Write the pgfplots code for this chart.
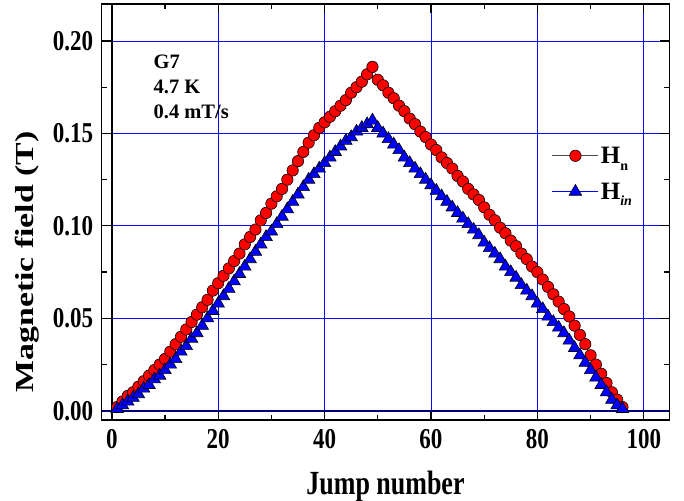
\documentclass[border=0pt]{standalone}
\usepackage{fontspec}
\setmainfont{Liberation Serif}
\usepackage{pgfplots}
\pgfplotsset{compat=1.18}
\usepackage{pgfplotstable}

\definecolor{hnred}{RGB}{255,0,0}
\definecolor{hinblue}{RGB}{0,0,255}
\definecolor{gridblue}{RGB}{10,10,255}
\definecolor{zeronavy}{RGB}{0,0,120}

% Field of the jump onset: H_n (normal) and H_in, versus jump number
\pgfplotstableread{
x y
1 0.002
2 0.005
3 0.008
4 0.010
5 0.013
6 0.016
7 0.019
8 0.022
9 0.025
10 0.028
11 0.032
12 0.036
13 0.040
14 0.044
15 0.048
16 0.052
17 0.056
18 0.060
19 0.065
20 0.069
21 0.073
22 0.077
23 0.081
24 0.085
25 0.090
26 0.094
27 0.098
28 0.103
29 0.107
30 0.112
31 0.116
32 0.120
33 0.125
34 0.130
35 0.135
36 0.140
37 0.145
38 0.149
39 0.153
40 0.156
41 0.159
42 0.162
43 0.165
44 0.168
45 0.172
46 0.175
47 0.178
48 0.182
49 0.186
50 0.179
51 0.176
52 0.172
53 0.169
54 0.165
55 0.162
56 0.158
57 0.155
58 0.151
59 0.148
60 0.144
61 0.141
62 0.137
63 0.134
64 0.131
65 0.127
66 0.124
67 0.120
68 0.117
69 0.114
70 0.110
71 0.106
72 0.103
73 0.099
74 0.096
75 0.092
76 0.089
77 0.085
78 0.082
79 0.078
80 0.075
81 0.071
82 0.067
83 0.063
84 0.059
85 0.055
86 0.051
87 0.046
88 0.041
89 0.036
90 0.030
91 0.025
92 0.020
93 0.015
94 0.010
95 0.006
96 0.002
}\Hn

\pgfplotstableread{
x y
1 0.001
2 0.003
3 0.005
4 0.007
5 0.009
6 0.012
7 0.014
8 0.017
9 0.019
10 0.022
11 0.025
12 0.028
13 0.032
14 0.035
15 0.039
16 0.042
17 0.046
18 0.050
19 0.054
20 0.058
21 0.062
22 0.066
23 0.070
24 0.074
25 0.078
26 0.082
27 0.086
28 0.090
29 0.094
30 0.097
31 0.101
32 0.105
33 0.109
34 0.113
35 0.117
36 0.121
37 0.125
38 0.128
39 0.131
40 0.134
41 0.137
42 0.140
43 0.143
44 0.146
45 0.148
46 0.151
47 0.153
48 0.155
49 0.157
50 0.153
51 0.150
52 0.147
53 0.144
54 0.141
55 0.137
56 0.134
57 0.131
58 0.128
59 0.125
60 0.122
61 0.119
62 0.116
63 0.113
64 0.110
65 0.107
66 0.104
67 0.101
68 0.098
69 0.095
70 0.091
71 0.088
72 0.085
73 0.082
74 0.078
75 0.075
76 0.072
77 0.068
78 0.065
79 0.062
80 0.058
81 0.055
82 0.051
83 0.048
84 0.045
85 0.042
86 0.038
87 0.034
88 0.030
89 0.026
90 0.022
91 0.018
92 0.014
93 0.010
94 0.006
95 0.003
96 0.001
}\Hin

\begin{document}
\begin{tikzpicture}
\begin{axis}[
  scale only axis,
  width=567.6pt, height=416pt,
  xmin=-1.9, xmax=104.8,
  ymin=-0.005, ymax=0.22,
  xtick={0,20,40,60,80,100},
  ytick={0,0.05,0.10,0.15,0.20},
  minor x tick num=1,
  minor y tick num=1,
  tick align=inside,
  xtick pos=both, ytick pos=both,
  major tick length=9pt,
  minor tick length=5pt,
  every tick/.style={black, line width=1.2pt},
  axis line style={black, line width=1.6pt},
  grid=major,
  major grid style={gridblue, line width=0.9pt},
  scaled y ticks=false,
  xticklabel={\scalebox{1}[1.25]{\pgfmathprintnumber[assume math mode=true]{\tick}}},
  yticklabel={\scalebox{1}[1.25]{\pgfmathprintnumber[assume math mode=true,fixed,fixed zerofill,precision=2]{\tick}}},
  yticklabel style={xshift=-5pt},
  xticklabel style={yshift=-6pt},
  ticklabel style={font=\bfseries\fontsize{23}{25}\selectfont},
  xlabel={\scalebox{1}[1.3]{\textbf{Jump number}}},
  ylabel={\scalebox{1.3}[1]{\textbf{Magnetic field (T)}}},
  label style={font=\bfseries\fontsize{26}{28}\selectfont},
  xlabel style={at={(rel axis cs:0.5,0)}, anchor=center, yshift=-66pt},
  ylabel style={at={(rel axis cs:0,0.38)}, anchor=center, yshift=74pt},
  legend style={draw=none, fill=none, at={(rel axis cs:0.793,0.592)}, anchor=west,
    inner sep=0pt, row sep=14pt, font=\bfseries\fontsize{25}{27}\selectfont,
    nodes={inner sep=2pt}},
  legend cell align=left,
  legend image code/.code={%
    \draw[mark repeat=2,mark phase=2,#1] plot coordinates {(0pt,0pt) (23pt,0pt) (46pt,0pt)};},
  clip=false,
]
% zero lines
\draw[zeronavy, line width=2pt] (axis cs:-1.9,0) -- (axis cs:104.8,0);
\draw[black, line width=1.4pt] (axis cs:0,-0.005) -- (axis cs:0,0.22);

\addplot[black!70, line width=0.6pt, mark=*, mark size=5.7pt,
  mark options={fill=hnred, draw=black, line width=0.6pt, solid}]
  table[x=x, y=y] {\Hn};
\addlegendentry{H\raisebox{-0.6ex}{\fontsize{14}{14}\selectfont n}}

\addplot[color=hinblue, line width=0.8pt, mark=triangle*, mark size=7.2pt,
  mark options={fill=hinblue, draw=black, line width=0.6pt, solid}]
  table[x=x, y=y] {\Hin};
\addlegendentry{H\raisebox{-0.6ex}{\fontsize{14}{14}\selectfont\itshape in}}

% sample and sweep conditions
\node[anchor=base west, font=\bfseries\fontsize{20.5}{22}\selectfont] at (axis cs:7.2,0.1852) {G7};
\node[anchor=base west, font=\bfseries\fontsize{20.5}{22}\selectfont] at (axis cs:7.2,0.1716) {4.7 K};
\node[anchor=base west, font=\bfseries\fontsize{20.5}{22}\selectfont] at (axis cs:7.2,0.1580) {0.4 mT/s};
\end{axis}
\pgfresetboundingbox
\path[use as bounding box] (-101.7pt,-80pt) rectangle (582.3pt,420pt);
\end{tikzpicture}
\end{document}
